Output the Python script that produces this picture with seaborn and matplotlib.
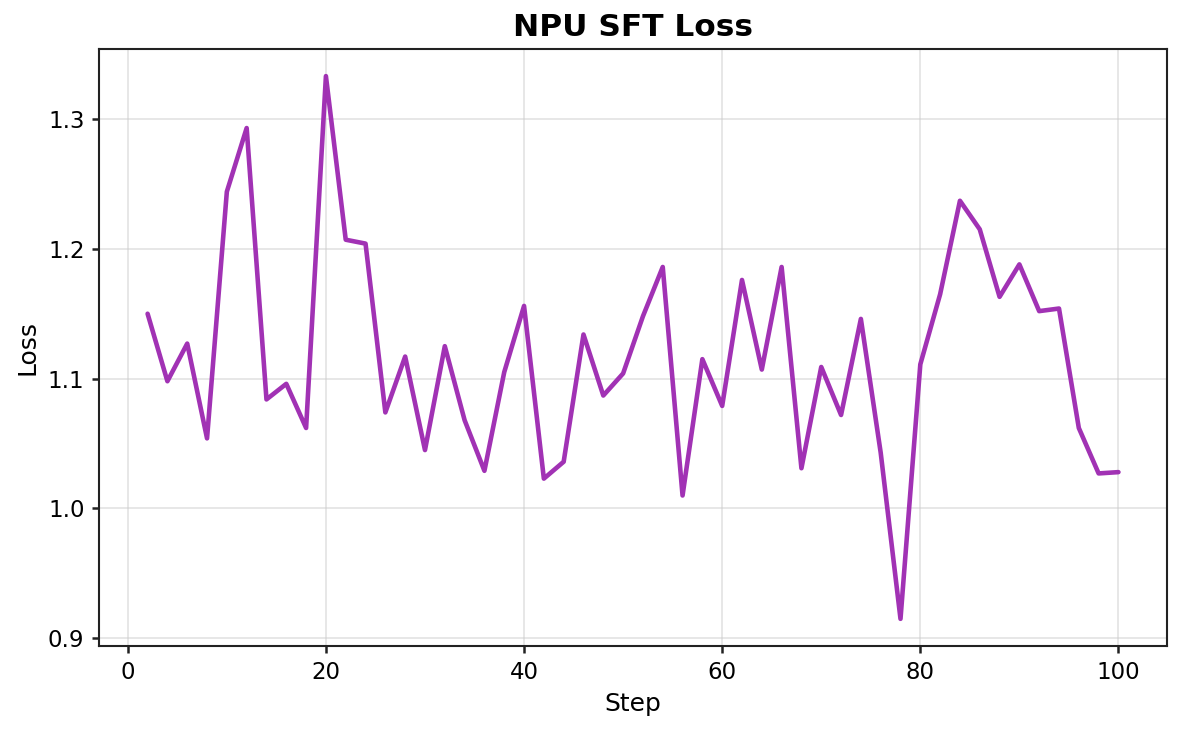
import numpy as np
import pandas as pd
import matplotlib
matplotlib.use('Agg')
import matplotlib.pyplot as plt
import seaborn as sns

sns.set_style('ticks', {'axes.grid': True})
plt.rcParams['font.family'] = ['DejaVu Sans']
plt.rcParams['text.color'] = 'black'
plt.rcParams['axes.labelcolor'] = 'black'
plt.rcParams['xtick.color'] = 'black'
plt.rcParams['ytick.color'] = 'black'

# values
steps = list(range(2, 101, 2))
loss = [1.150, 1.098, 1.127, 1.054, 1.244, 1.293, 1.084, 1.096, 1.062, 1.333,
        1.207, 1.204, 1.074, 1.117, 1.045, 1.125, 1.068, 1.029, 1.105, 1.156,
        1.023, 1.036, 1.134, 1.087, 1.104, 1.148, 1.186, 1.010, 1.115, 1.079,
        1.176, 1.107, 1.186, 1.031, 1.109, 1.072, 1.146, 1.043, 0.915, 1.111,
        1.165, 1.237, 1.215, 1.163, 1.188, 1.152, 1.154, 1.062, 1.027, 1.028]

df = pd.DataFrame({'Step': steps, 'Loss': loss})

fig = plt.figure(figsize=(1182 / 150, 731 / 150), dpi=150)
ax = fig.add_axes([0.0838, 0.1163, 0.9035, 0.8167])

sns.lineplot(data=df, x='Step', y='Loss', ax=ax, color='#9C27B0', linewidth=2.2, alpha=0.95)

ax.set_title('NPU SFT Loss', fontsize=15, fontweight='bold', color='black')
ax.set_xlabel('Step', fontsize=12)
ax.set_ylabel('Loss', fontsize=12)
ax.tick_params(labelsize=11, color='#222222', width=1.2)
ax.grid(True, color='#cccccc', alpha=0.5, linewidth=0.9)
for s in ax.spines.values():
    s.set_color('#222222')
    s.set_linewidth(1.0)

plt.savefig('out.png', dpi=150)
